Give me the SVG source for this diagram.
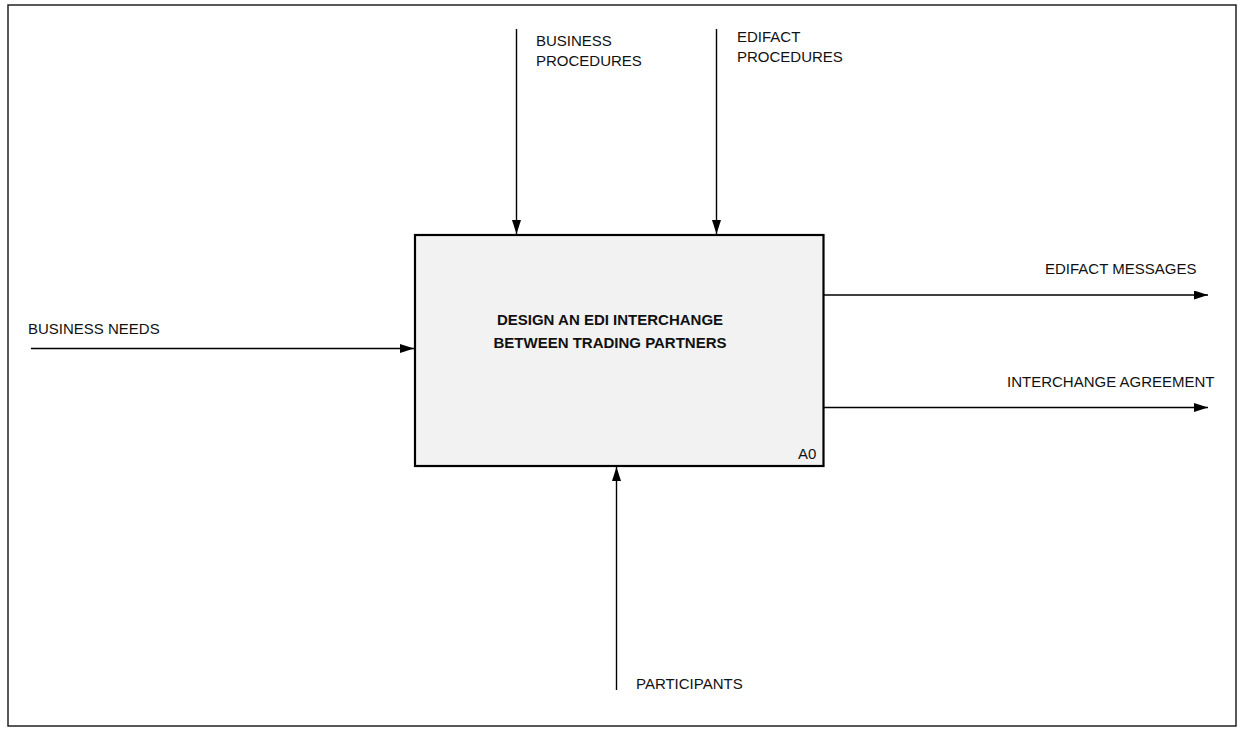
<svg xmlns="http://www.w3.org/2000/svg" width="1259" height="734" viewBox="0 0 1259 734">
<style>
  text { font-family: "Liberation Sans", Arial, sans-serif; font-size: 15px; fill: #111; }
  .title { font-weight: bold; text-anchor: middle; }
  .conn { stroke: #000; stroke-width: 1.4; fill: none; marker-end: url(#arrow); }
</style>
<defs>
  <marker id="arrow" markerUnits="userSpaceOnUse" markerWidth="15" markerHeight="10" refX="14" refY="4.5" orient="auto">
    <path d="M0,0 L14,4.5 L0,9 z" fill="#000"/>
  </marker>
</defs>
<rect x="0" y="0" width="1259" height="734" fill="#fff"/>
<rect x="8" y="5" width="1228" height="721" fill="none" stroke="#222" stroke-width="1.5"/>
<g id="A0">
  <rect x="415" y="235" width="408.5" height="231" fill="#f2f2f2" stroke="#000" stroke-width="2.2"/>
  <text class="title" x="610" y="325">DESIGN AN EDI INTERCHANGE</text>
  <text class="title" x="610" y="348">BETWEEN TRADING PARTNERS</text>
  <text x="798" y="459">A0</text>
</g>
<g id="connectors">
  <line class="conn" x1="516.5" y1="29" x2="516.5" y2="234"/>
  <line class="conn" x1="716.5" y1="29" x2="716.5" y2="234"/>
  <line class="conn" x1="31" y1="348.5" x2="414" y2="348.5"/>
  <line class="conn" x1="824" y1="295" x2="1208" y2="295"/>
  <line class="conn" x1="824" y1="407.5" x2="1208" y2="407.5"/>
  <line class="conn" x1="616.5" y1="690" x2="616.5" y2="467"/>
</g>
<g id="labels">
  <text x="536" y="46">BUSINESS</text>
  <text x="536" y="66">PROCEDURES</text>
  <text x="737" y="42">EDIFACT</text>
  <text x="737" y="62">PROCEDURES</text>
  <text x="28" y="334">BUSINESS NEEDS</text>
  <text x="1045" y="274">EDIFACT MESSAGES</text>
  <text x="1007" y="387">INTERCHANGE AGREEMENT</text>
  <text x="636" y="689">PARTICIPANTS</text>
</g>
</svg>
